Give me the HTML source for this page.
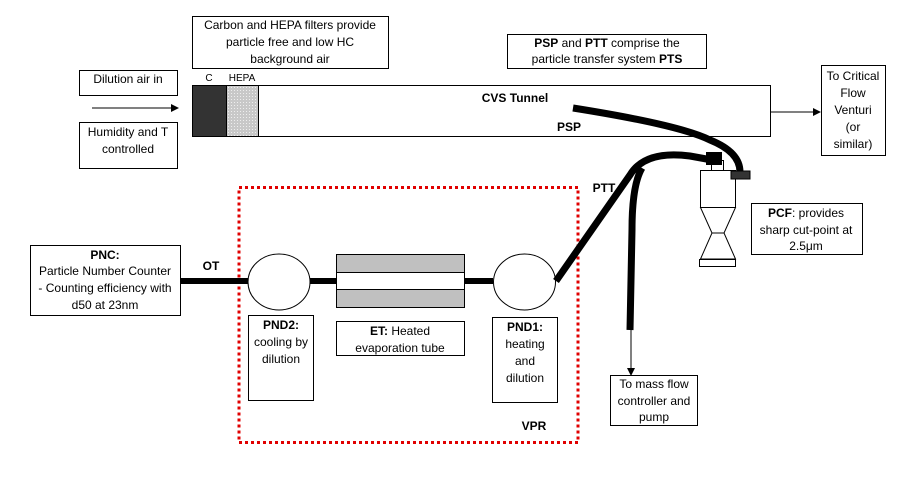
<!DOCTYPE html>
<html><head><style>
body{margin:0;background:#fff;}
svg{display:block;}
text{font-family:"Liberation Sans",sans-serif;font-size:12px;fill:#000;}
.b{font-weight:bold;}
</style></head><body>
<svg width="899" height="500" viewBox="0 0 899 500">
<defs>
<pattern id="dots" width="3" height="3" patternUnits="userSpaceOnUse">
<rect width="3" height="3" fill="#c8c8c8"/><rect width="1" height="1" fill="#eee"/>
</pattern>
<marker id="ar" markerWidth="8" markerHeight="8" refX="7" refY="4" orient="auto" markerUnits="userSpaceOnUse"><path d="M0,0 L8,4 L0,8 z" fill="#000"/></marker>
</defs>
<g fill="#fff" stroke="#000" stroke-width="1">
<rect x="192.5" y="16.5" width="196" height="52"/>
<rect x="79.5" y="70.5" width="98" height="25"/>
<rect x="79.5" y="122.5" width="98" height="46"/>
<rect x="192.5" y="85.5" width="578" height="51"/>
<rect x="507.5" y="34.5" width="199" height="34"/>
<rect x="821.5" y="65.5" width="64" height="90"/>
<rect x="751.5" y="203.5" width="111" height="51"/>
<rect x="30.5" y="245.5" width="150" height="70"/>
<rect x="248.5" y="315.5" width="65" height="85"/>
<rect x="336.5" y="321.5" width="128" height="34"/>
<rect x="492.5" y="317.5" width="65" height="85"/>
<rect x="610.5" y="375.5" width="87" height="50"/>
</g>
<rect x="192.5" y="85.5" width="34" height="51" fill="#333" stroke="#000"/>
<rect x="226.5" y="85.5" width="32" height="51" fill="url(#dots)" stroke="#000"/>
<line x1="92" y1="108" x2="178" y2="108" stroke="#000" marker-end="url(#ar)"/>
<line x1="771" y1="112" x2="820" y2="112" stroke="#000" marker-end="url(#ar)"/>
<line x1="631" y1="330" x2="631" y2="375" stroke="#000" marker-end="url(#ar)"/>
<rect x="239" y="187.5" width="339" height="255" fill="none" stroke="#e00000" stroke-width="3" stroke-dasharray="3,3"/>
<!-- main line -->
<line x1="180" y1="281" x2="493" y2="281" stroke="#000" stroke-width="6"/>
<rect x="336.5" y="254.5" width="128" height="53" fill="#c0c0c0" stroke="#000"/>
<rect x="336.5" y="272.5" width="128" height="17" fill="#fff" stroke="#000"/>
<ellipse cx="279" cy="282" rx="31" ry="28" fill="#fff" stroke="#000"/>
<ellipse cx="524.5" cy="282" rx="31" ry="28" fill="#fff" stroke="#000"/>
<!-- PCF device -->
<rect x="700.5" y="170.5" width="35" height="37" fill="#fff" stroke="#000"/>
<path d="M700.5 207.5 L735.5 207.5 L724 233 L735.5 259 L700.5 259 L712 233 Z" fill="#fff" stroke="#000"/>
<line x1="712" y1="233" x2="724" y2="233" stroke="#000"/>
<rect x="699.5" y="259.5" width="36" height="7" fill="#fff" stroke="#000"/>
<rect x="711.5" y="160.5" width="12" height="10" fill="#fff" stroke="#000"/>
<!-- tubes -->
<path d="M556 281 L630 175 Q645 150 690 156 L712 160" fill="none" stroke="#000" stroke-width="7"/>
<path d="M642 168 Q632 185 632 230 L630 330" fill="none" stroke="#000" stroke-width="7"/>
<path d="M573 108 Q680 125 710 140 Q740 152 740 172" fill="none" stroke="#000" stroke-width="7"/>
<rect x="706" y="152" width="16" height="13" fill="#000"/>
<rect x="731" y="171" width="19" height="8" fill="#333" stroke="#000"/>
<!-- texts -->
<g text-anchor="middle">
<text x="290" y="29">Carbon and HEPA filters provide</text>
<text x="290" y="46">particle free and low HC</text>
<text x="290" y="63">background air</text>
<text x="128" y="83">Dilution air in</text>
<text x="128" y="136">Humidity and T</text>
<text x="128" y="153">controlled</text>
<text x="209" y="81" style="font-size:10px">C</text>
<text x="242" y="81" style="font-size:10px">HEPA</text>
<text x="515" y="102" class="b">CVS Tunnel</text>
<text x="569" y="131" class="b">PSP</text>
<text x="607" y="47"><tspan class="b">PSP</tspan> and <tspan class="b">PTT</tspan> comprise the</text>
<text x="607" y="63">particle transfer system <tspan class="b">PTS</tspan></text>
<text x="853" y="80">To Critical</text>
<text x="853" y="97">Flow</text>
<text x="853" y="114">Venturi</text>
<text x="853" y="131">(or</text>
<text x="853" y="148">similar)</text>
<text x="806" y="217"><tspan class="b">PCF</tspan>: provides</text>
<text x="806" y="234">sharp cut-point at</text>
<text x="806" y="250">2.5μm</text>
<text x="604" y="192" class="b">PTT</text>
<text x="105" y="259" class="b">PNC:</text>
<text x="105" y="275">Particle Number Counter</text>
<text x="105" y="292">- Counting efficiency with</text>
<text x="105" y="309">d50 at 23nm</text>
<text x="211" y="270" class="b">OT</text>
<text x="281" y="329" class="b">PND2:</text>
<text x="281" y="346">cooling by</text>
<text x="281" y="363">dilution</text>
<text x="400" y="335"><tspan class="b">ET:</tspan> Heated</text>
<text x="400" y="352">evaporation tube</text>
<text x="525" y="331" class="b">PND1:</text>
<text x="525" y="348">heating</text>
<text x="525" y="365">and</text>
<text x="525" y="382">dilution</text>
<text x="654" y="388">To mass flow</text>
<text x="654" y="405">controller and</text>
<text x="654" y="421">pump</text>
<text x="534" y="430" class="b">VPR</text>
</g>
</svg>
</body></html>
